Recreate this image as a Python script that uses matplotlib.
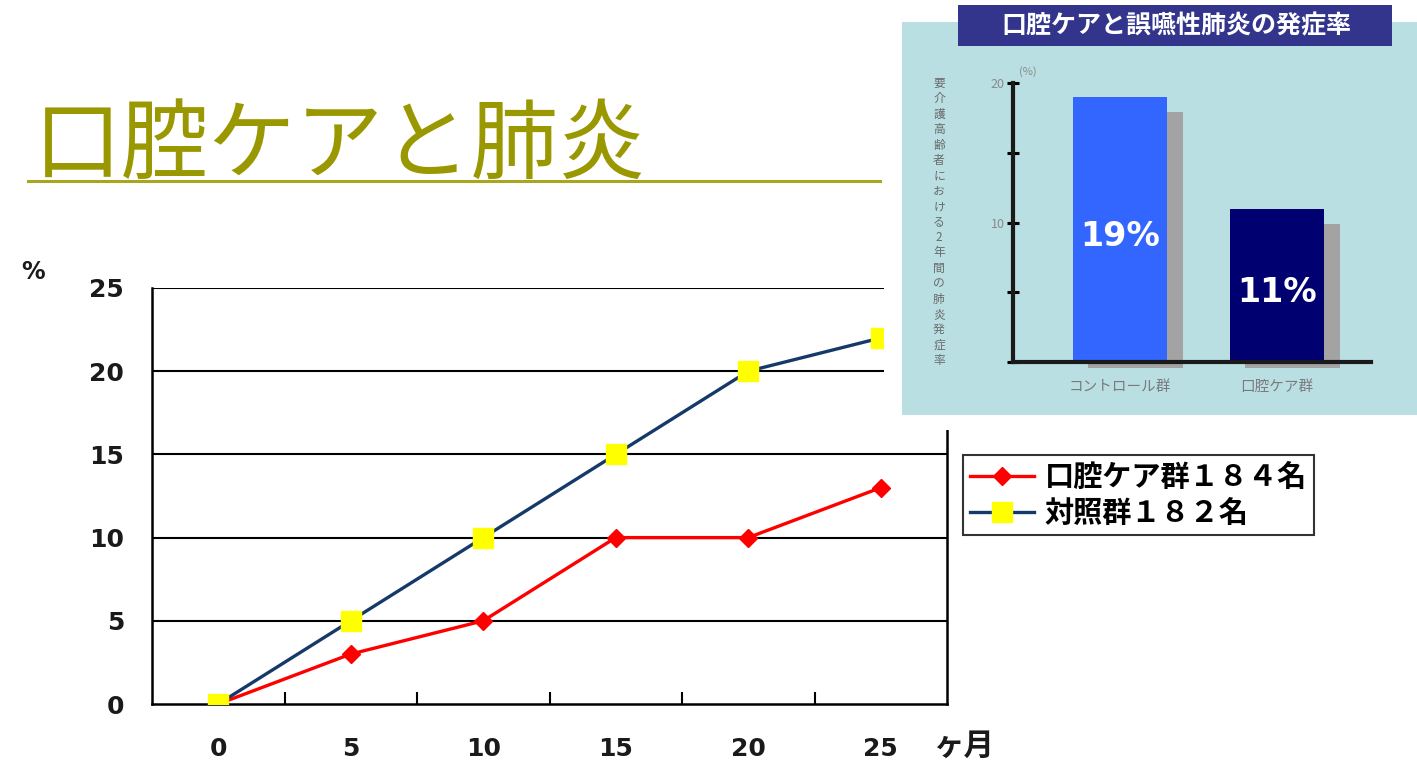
import matplotlib.pyplot as plt
from matplotlib.patches import Rectangle
from matplotlib.lines import Line2D

W, H = 1417, 764

# 経過月数と肺炎発症率(%)
months = [0, 5, 10, 15, 20, 25]
care_group = [0, 3, 5, 10, 10, 13]
control_group = [0, 5, 10, 15, 20, 22]
care_label = "口腔ケア群１８４名"
control_label = "対照群１８２名"
y_ticks = [0, 5, 10, 15, 20, 25]

# 2年間の肺炎発症率
bar_groups = ["コントロール群", "口腔ケア群"]
bar_values = [19, 11]
bar_colors = ["#3366ff", "#000070"]

JP = ["Noto Sans CJK JP", "DejaVu Sans"]
plt.rcParams["font.family"] = JP


def fx(px):
    return px / W


def fy(py):
    return 1 - py / H


fig = plt.figure(figsize=(W / 100, H / 100), dpi=100)
fig.patch.set_facecolor("white")

# スライドタイトル
fig.text(fx(34), fy(147), "口腔ケアと肺炎", fontsize=63, color="#9a9800",
         fontweight="normal", va="center", ha="left")
fig.add_artist(Line2D([fx(28), fx(880)], [fy(181), fy(181)], color="#a8a620", lw=2.2))

# 折れ線グラフ
ax = fig.add_axes([fx(152), fy(704), fx(947 - 152), (704 - 288) / H])
ax.plot(months, care_group, color="red", lw=2.4, marker="D", markersize=9,
        markerfacecolor="red", markeredgecolor="red", label=care_label, zorder=3)
ax.plot(months, control_group, color="#153a6a", lw=2.4, marker="s", markersize=14,
        markerfacecolor="#ffff00", markeredgecolor="#ffff00", label=control_label, zorder=4)
ax.set_xlim(-2.5, 27.5)
ax.set_ylim(0, 25)
ax.set_yticks(y_ticks)
ax.set_xticks(months)
ax.set_xticks([m + 2.5 for m in months[:-1]], minor=True)
ax.tick_params(axis="y", length=0, pad=20, labelsize=18)
ax.tick_params(axis="x", which="major", length=0, pad=24, labelsize=18)
ax.tick_params(axis="x", which="minor", direction="in", length=9, width=1.5)
for lab in ax.get_xticklabels() + ax.get_yticklabels():
    lab.set_fontweight("bold")
    lab.set_family("DejaVu Sans")
    lab.set_color("#1a1a1a")
for y in y_ticks[1:]:
    ax.axhline(y, color="black", lw=1.5, zorder=1)
for side in ["left", "bottom", "right"]:
    ax.spines[side].set_linewidth(1.8)
ax.spines["top"].set_visible(False)

fig.text(fx(33), fy(272), "%", fontsize=17, fontweight="bold", family="DejaVu Sans",
         ha="center", va="center", color="#1a1a1a")
fig.text(fx(933), fy(746), "ヶ月", fontsize=22, fontweight="bold", ha="left",
         va="center", color="#1a1a1a")

leg = ax.legend(loc="upper left", bbox_to_anchor=(fx(963), fy(455)),
                bbox_transform=fig.transFigure, frameon=True, fancybox=False,
                prop={"family": JP, "size": 21, "weight": "bold"},
                handlelength=2.2, handletextpad=0.35, borderpad=0.25,
                labelspacing=0.2, borderaxespad=0)
leg.get_frame().set_edgecolor("black")
leg.get_frame().set_linewidth(1.5)

# 右上の棒グラフ
fig.add_artist(Rectangle((fx(884), fy(430)), fx(W - 884), (430) / H,
                         transform=fig.transFigure, facecolor="white",
                         edgecolor="none", zorder=1))
fig.add_artist(Rectangle((fx(902), fy(415)), fx(W - 902), (415 - 22) / H,
                         transform=fig.transFigure, facecolor="#b9dfe2",
                         edgecolor="none", zorder=1.1))
fig.add_artist(Rectangle((fx(958), fy(46)), fx(1392 - 958), (46 - 5) / H,
                         transform=fig.transFigure, facecolor="#33358c",
                         edgecolor="none", zorder=1.2))
fig.text(fx(1176), fy(26), "口腔ケアと誤嚥性肺炎の発症率", fontsize=18,
         fontweight="bold", color="white", ha="center", va="center", zorder=1.3)

bx = fig.add_axes([fx(1013), fy(362), fx(1371 - 1013), (362 - 83) / H])
bx.set_zorder(2)
bx.patch.set_alpha(0)
pos = list(range(len(bar_values)))
bx.bar([p + 0.1 for p in pos], [v - 0.7 for v in bar_values], width=0.6,
       bottom=-0.4, color="#a3a3a3", zorder=1, clip_on=False)
bx.bar(pos, bar_values, width=0.6, color=bar_colors, zorder=2)
for p, v, ty in zip(pos, bar_values, [236, 292]):
    bx.text(p, (362 - ty) / (362 - 83) * 20, f"{v}%", color="white", fontsize=24,
            fontweight="bold", family="DejaVu Sans", ha="center", va="center", zorder=3)
bx.set_xlim(-0.68, 1.6)
bx.set_ylim(0, 20)
bx.set_yticks([0, 5, 10, 15, 20])
bx.set_yticklabels(["", "", "10", "", "20"])
bx.tick_params(axis="y", direction="inout", length=8, width=2.2, labelsize=9,
               labelcolor="#8a8a8a", pad=2)
bx.set_xticks(pos)
bx.set_xticklabels(bar_groups)
bx.tick_params(axis="x", length=0, labelsize=10.5, labelcolor="#7a7a7a", pad=13)
for side in ["top", "right"]:
    bx.spines[side].set_visible(False)
bx.spines["left"].set_linewidth(3)
bx.spines["bottom"].set_linewidth(3)
bx.spines["left"].set_color("#1a1a1a")
bx.spines["bottom"].set_color("#1a1a1a")

fig.text(fx(1028), fy(72), "(%)", fontsize=8, color="#8a8a8a", ha="center",
         va="center", zorder=3)
fig.text(fx(939), fy(222), "\n".join("要介護高齢者における2年間の肺炎発症率"),
         fontsize=8.5, color="#6a6a6a", ha="center", va="center",
         linespacing=1.24, zorder=3)

fig.savefig("out.png", dpi=100, facecolor="white")
